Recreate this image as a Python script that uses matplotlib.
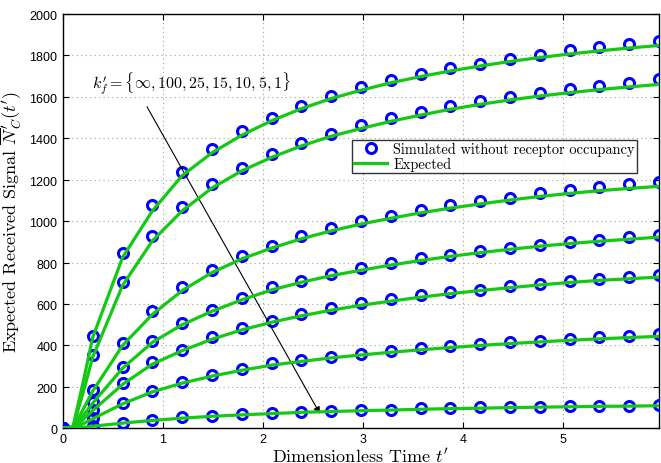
import matplotlib
matplotlib.use("Agg")
import matplotlib.pyplot as plt
import numpy as np

plt.rcParams['mathtext.fontset'] = 'cm'
plt.rcParams['axes.formatter.use_mathtext'] = True

# Time samples of the simulation markers
t_sim = [0.0, 0.298, 0.596, 0.894, 1.192, 1.49, 1.788, 2.086, 2.384, 2.682, 2.98,
         3.278, 3.576, 3.874, 4.172, 4.47, 4.768, 5.066, 5.364, 5.662, 5.96]

sim_inf = [0, 447, 847, 1080, 1237, 1346, 1433, 1500, 1558, 1604, 1647,
           1681, 1710, 1737, 1761, 1784, 1803, 1824, 1839, 1855, 1871]
sim_100 = [0, 352, 705, 927, 1068, 1177, 1258, 1322, 1378, 1422, 1462,
           1499, 1527, 1556, 1578, 1599, 1618, 1639, 1652, 1668, 1684]
sim_25 = [0, 185, 412, 565, 681, 766, 831, 882, 928, 968, 1003,
          1027, 1055, 1079, 1097, 1113, 1137, 1151, 1164, 1180, 1188]
sim_15 = [0, 125, 295, 423, 509, 573, 629, 681, 713, 745, 774,
          797, 821, 837, 858, 871, 885, 898, 911, 923, 934]
sim_10 = [0, 88, 219, 319, 380, 440, 485, 520, 552, 580, 604,
          623, 644, 657, 670, 686, 697, 710, 721, 732, 740]
sim_5 = [0, 48, 122, 182, 225, 257, 286, 314, 330, 346, 359,
         375, 386, 399, 407, 415, 423, 431, 440, 447, 456]
sim_1 = [0, 10, 26, 40, 53, 61, 69, 72, 80, 82, 88,
         90, 97, 98, 101, 101, 104, 106, 109, 109, 113]

# Expected curves (read at a denser set of times near the origin)
t_exp = [0.0, 0.1, 0.2, 0.298, 0.596, 0.894, 1.192, 1.49, 1.788, 2.086, 2.384, 2.682, 2.98,
         3.278, 3.576, 3.874, 4.172, 4.47, 4.768, 5.066, 5.364, 5.662, 5.96]

exp_inf = [0, 8, 220, 440, 825, 1050, 1220, 1330, 1415, 1485, 1543, 1592, 1632,
           1668, 1698, 1725, 1749, 1771, 1790, 1807, 1822, 1836, 1848]
exp_100 = [0, 6, 170, 345, 690, 905, 1050, 1160, 1243, 1308, 1363, 1410, 1447,
           1482, 1512, 1540, 1564, 1585, 1604, 1620, 1635, 1648, 1660]
exp_25 = [0, 3, 90, 180, 400, 550, 665, 752, 818, 870, 915, 953, 986,
          1014, 1040, 1063, 1083, 1102, 1119, 1134, 1147, 1158, 1168]
exp_15 = [0, 2, 60, 122, 290, 415, 500, 565, 620, 668, 705, 737, 763,
          788, 810, 830, 848, 864, 879, 892, 903, 913, 923]
exp_10 = [0, 1, 42, 86, 212, 310, 375, 430, 475, 512, 543, 570, 594,
          614, 633, 650, 665, 679, 692, 704, 714, 722, 730]
exp_5 = [0, 1, 22, 46, 118, 176, 218, 252, 280, 305, 323, 340, 354,
         367, 379, 390, 400, 409, 417, 425, 432, 438, 444]
exp_1 = [0, 0, 5, 10, 25, 38, 49, 58, 65, 71, 77, 81, 85,
         88, 92, 95, 97, 100, 102, 104, 106, 107, 109]

sims = [sim_inf, sim_100, sim_25, sim_15, sim_10, sim_5, sim_1]
exps = [exp_inf, exp_100, exp_25, exp_15, exp_10, exp_5, exp_1]

x_ticks = [0, 1, 2, 3, 4, 5]
y_ticks = [0, 200, 400, 600, 800, 1000, 1200, 1400, 1600, 1800, 2000]

green = '#14c814'
blue = '#0000ff'

fig = plt.figure(figsize=(6.61, 4.64), dpi=100)
ax = fig.add_axes([63/661, 1 - 429.3/464, (659-63)/661, (429.3-15)/464])

for i, (s, e) in enumerate(zip(sims, exps)):
    ax.plot(t_sim, s, linestyle='none', marker='o', markersize=7.2,
            markerfacecolor='none', markeredgecolor=blue, markeredgewidth=2.2,
            label='Simulated without receptor occupancy' if i == 0 else None, zorder=3)
    ax.plot(t_exp, e, color=green, linewidth=2.3,
            label='Expected' if i == 0 else None, zorder=4)

ax.set_xlim(0, 5.96)
ax.set_ylim(0, 2000)
ax.set_xticks(x_ticks)
ax.set_yticks(y_ticks)
ax.grid(True, linestyle=(0, (1, 3)), color='#a0a0a0', linewidth=0.8)
ax.tick_params(direction='in', top=True, right=True, length=4, labelsize=9, pad=3)
for lab in ax.get_xticklabels() + ax.get_yticklabels():
    lab.set_family('Liberation Sans')
for sp in ax.spines.values():
    sp.set_linewidth(1.0)

ax.set_xlabel("Dimensionless Time $t'$", family='cmr10', fontsize=13, labelpad=0)
ax.set_ylabel(r"Expected Received Signal $\overline{N}_C^{\prime}(t')$", family='cmr10',
              fontsize=13, labelpad=4)

ax.annotate('', xy=(2.57, 70), xytext=(0.84, 1552),
            arrowprops=dict(arrowstyle='-|>', color='black', lw=0.8,
                            mutation_scale=10, shrinkA=0, shrinkB=0))
ax.text(0.29, 1668, r"$k_f^{\prime} = \{\infty, 100, 25, 15, 10, 5, 1\}$", fontsize=11.5,
        ha='left', va='center')

leg = ax.legend(loc='upper right', bbox_to_anchor=(0.963, 0.696),
                prop={'family': 'cmr10', 'size': 10.4}, frameon=True, fancybox=False,
                edgecolor='black', borderpad=0.15, labelspacing=0.05,
                handlelength=2.3, handletextpad=0.4, borderaxespad=0)
leg.get_frame().set_linewidth(1.0)

fig.savefig('out.png', dpi=100)
